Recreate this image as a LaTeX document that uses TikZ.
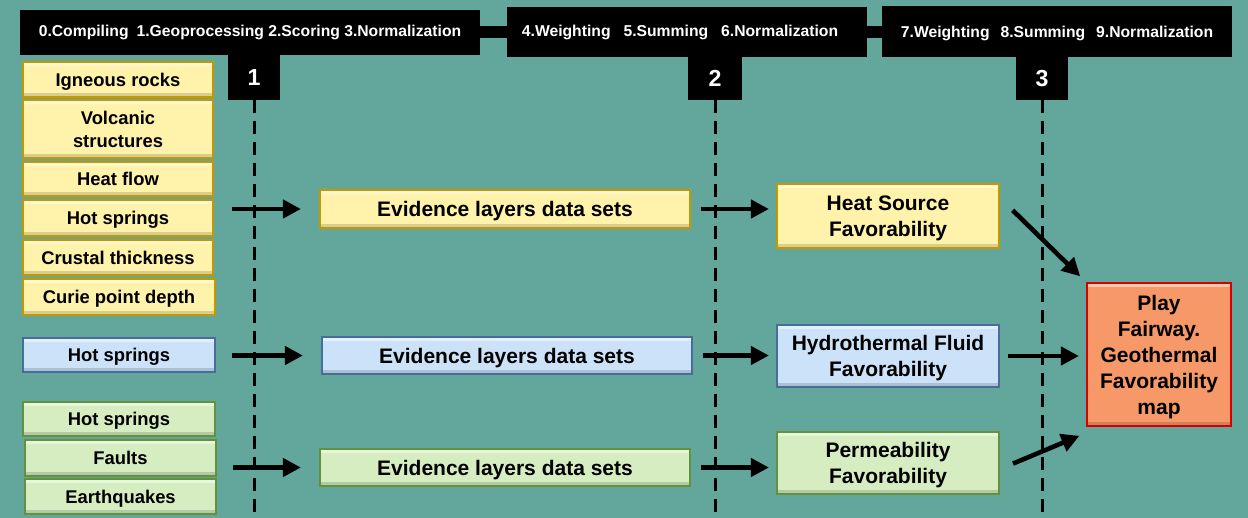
\documentclass[tikz,border=0pt]{standalone}
\usepackage{fontspec}
\setmainfont{Liberation Sans}
\usetikzlibrary{arrows.meta}
\definecolor{bgteal}{RGB}{98,166,156}
\definecolor{ylwfill}{RGB}{255,242,170}
\definecolor{ylwline}{RGB}{196,152,0}
\definecolor{blufill}{RGB}{204,226,248}
\definecolor{bluline}{RGB}{72,108,156}
\definecolor{grnfill}{RGB}{214,237,194}
\definecolor{grnline}{RGB}{98,146,60}
\definecolor{mapfill}{RGB}{246,152,104}
\definecolor{mapline}{RGB}{214,0,0}

\begin{document}
\begin{tikzpicture}[x=0.5pt,y=-0.5pt, every node/.style={font=\bfseries\fontsize{9.2}{11.5}\selectfont},
  box/.style={draw=#1line,fill=#1fill,line width=1.1pt,align=center,inner sep=0pt,text depth=0pt,
    path picture={
      \fill[white,opacity=.45] (path picture bounding box.north west) rectangle ([yshift=-2pt]path picture bounding box.north east);
      \fill[black,opacity=.15] ([yshift=2pt]path picture bounding box.south west) rectangle (path picture bounding box.south east);}},
  big/.style={font=\bfseries\fontsize{10.5}{13}\selectfont},
  bar/.style={fill=black,inner sep=0pt,text=white,font=\bfseries\fontsize{7.85}{9}\selectfont},
  tab/.style={fill=black,inner sep=0pt,text=white,font=\bfseries\fontsize{11.6}{14}\selectfont},
  guide/.style={line width=1.5pt,dash pattern=on 6.5pt off 4pt},
  arr/.style={line width=2.3pt,-{Triangle[length=9pt,width=9pt]}}]
\path[fill=bgteal,use as bounding box] (0,0) rectangle (1248,518);
\coordinate (bot) at (0,518);

\node[bar,minimum width=230pt,minimum height=22.5pt] (bar1) at (250,32.5) {0.Compiling\hspace{4pt}1.Geoprocessing 2.Scoring 3.Normalization};
\node[bar,minimum width=180pt,minimum height=25pt] (bar2) at (687,32) {\hspace*{-7pt}4.Weighting\hspace{6.5pt}5.Summing\hspace{6.5pt}6.Normalization};
\node[bar,minimum width=175pt,minimum height=25.5pt,text depth=-2pt] (bar3) at (1057,31.5) {7.Weighting\hspace{5.5pt}8.Summing\hspace{5.5pt}9.Normalization};
\draw[line width=6pt] (bar1.east) -- (bar1.east -| bar2.west);
\draw[line width=6pt] (bar2.east) -- (bar2.east -| bar3.west);
\node[tab,minimum width=26pt,minimum height=22.5pt] (t1) at (254,77.5) {1};
\node[tab,minimum width=27pt,minimum height=21.5pt] (t2) at (715,78.5) {2};
\node[tab,minimum width=26pt,minimum height=21.5pt] (t3) at (1042,78.5) {3};
\draw[guide] (t1.south) -- (t1.south |- bot);
\draw[guide] (t2.south) -- (t2.south |- bot);
\draw[guide] (t3.south) -- (t3.south |- bot);

\node[box=ylw,minimum width=95pt,minimum height=17.5pt] (ign) at (118,79.5) {Igneous rocks};
\node[box=ylw,minimum width=95pt,minimum height=29pt] (volc) at (118,129) {Volcanic\\structures};
\node[box=ylw,minimum width=95pt,minimum height=17pt] (heat) at (118,179) {Heat flow};
\node[box=ylw,minimum width=95pt,minimum height=18pt] (hs1) at (118,218) {Hot springs};
\node[box=ylw,minimum width=95pt,minimum height=17.5pt] (crust) at (118,257.5) {Crustal thickness};
\node[box=ylw,minimum width=96pt,minimum height=18pt] (curie) at (119,297) {Curie point depth};
\node[box=blu,minimum width=96pt,minimum height=17pt] (hs2) at (119,355) {Hot springs};
\node[box=grn,minimum width=96pt,minimum height=17pt] (hs3) at (119,419) {Hot springs};
\node[box=grn,minimum width=95.5pt,minimum height=18pt] (faults) at (120.5,458) {Faults};
\node[box=grn,minimum width=95.5pt,minimum height=17.5pt] (quake) at (120.5,496.5) {Earthquakes};

\node[box=ylw,big,minimum width=185pt,minimum height=19pt] (ev1) at (505,209) {Evidence layers data sets};
\node[box=blu,big,minimum width=185pt,minimum height=18.5pt] (ev2) at (507,355.5) {Evidence layers data sets};
\node[box=grn,big,minimum width=185pt,minimum height=18.5pt] (ev3) at (505,467.5) {Evidence layers data sets};

\node[box=ylw,big,minimum width=111pt,minimum height=32pt] (fav1) at (888,216) {Heat Source\\Favorability};
\node[box=blu,big,minimum width=111pt,minimum height=31pt] (fav2) at (888,356) {Hydrothermal Fluid\\Favorability};
\node[box=grn,big,minimum width=111pt,minimum height=31pt] (fav3) at (888,463) {Permeability\\Favorability};
\node[box=map,big,minimum width=72pt,minimum height=71.5pt] (play) at (1159,354.5) {Play\\Fairway.\\Geothermal\\Favorability\\map};

\draw[arr,shorten <=9pt,shorten >=9pt] (hs1.east |- ev1.west) -- (ev1.west);
\draw[arr,shorten <=8pt,shorten >=9pt] (hs2.east |- ev2.west) -- (ev2.west);
\draw[arr,shorten <=8pt,shorten >=9pt] (faults.east |- ev3.west) -- (ev3.west);
\draw[arr,shorten <=5pt,shorten >=3.5pt] (ev1.east) -- (ev1.east -| fav1.west);
\draw[arr,shorten <=5pt,shorten >=3.5pt] (ev2.east) -- (ev2.east -| fav2.west);
\draw[arr,shorten <=5pt,shorten >=3.5pt] (ev3.east) -- (ev3.east -| fav3.west);
\draw[arr,shorten <=8.8pt,shorten >=4pt] ([yshift=9pt]fav1.east) -- (play.north west);
\draw[arr,shorten <=4pt,shorten >=3.5pt] (fav2.east) -- (fav2.east -| play.west);
\draw[arr,shorten <=7pt,shorten >=3.5pt] ([yshift=-3pt]fav3.east) -- ([yshift=-3pt]play.south west);
\end{tikzpicture}
\end{document}
